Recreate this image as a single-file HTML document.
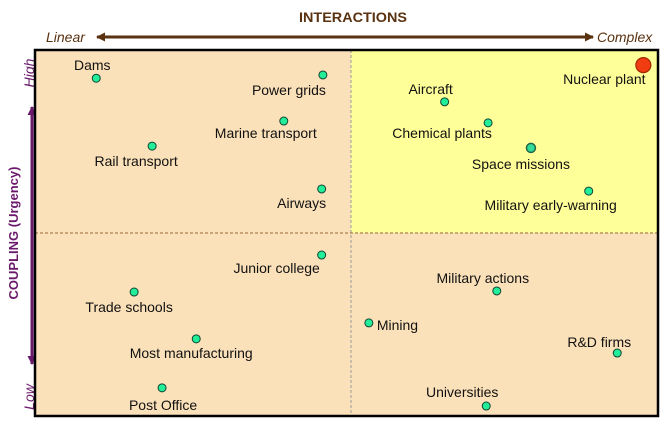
<!DOCTYPE html>
<html><head><meta charset="utf-8">
<style>
html,body{margin:0;padding:0;background:#fff;}
svg{display:block;font-family:"Liberation Sans",sans-serif;}
</style></head>
<body>
<svg id="chart" width="666" height="423" viewBox="0 0 666 423" xmlns="http://www.w3.org/2000/svg">
  <defs>
    <marker id="ab" markerWidth="9" markerHeight="9" refX="8" refY="4.5" orient="auto-start-reverse" markerUnits="userSpaceOnUse"><path d="M0,0 L9,4.5 L0,9 z" fill="#5a3210"/></marker>
    <marker id="ap" markerWidth="9" markerHeight="9" refX="8" refY="4.5" orient="auto-start-reverse" markerUnits="userSpaceOnUse"><path d="M0,0 L9,4.5 L0,9 z" fill="#6b1a6b"/></marker>
  </defs>
  <text x="353" y="22" text-anchor="middle" font-size="14" font-weight="bold" fill="#5a3210" textLength="108" lengthAdjust="spacingAndGlyphs">INTERACTIONS</text>
  <line x1="97" y1="37" x2="593" y2="37" stroke="#5a3210" stroke-width="3" marker-start="url(#ab)" marker-end="url(#ab)"/>
  <text x="46" y="42" font-size="14" font-style="italic" fill="#5a3210">Linear</text>
  <text x="597" y="42" font-size="14" font-style="italic" fill="#5a3210">Complex</text>
  <text transform="translate(18,233) rotate(-90)" text-anchor="middle" font-size="13" font-weight="bold" fill="#6b1a6b">COUPLING (Urgency)</text>
  <line x1="32" y1="107" x2="32" y2="364" stroke="#6b1a6b" stroke-width="3" marker-start="url(#ap)" marker-end="url(#ap)"/>
  <text transform="translate(34,73) rotate(-90)" text-anchor="middle" font-size="14" font-style="italic" fill="#6b1a6b">High</text>
  <text transform="translate(34,397) rotate(-90)" text-anchor="middle" font-size="14" font-style="italic" fill="#6b1a6b">Low</text>

  <rect x="35" y="50" width="623" height="366" fill="#fbe1b9"/>
  <rect x="351" y="50" width="307" height="183" fill="#ffff99"/>
  <line x1="351" y1="50" x2="351" y2="416" stroke="#999" stroke-dasharray="3,2"/>
  <line x1="35" y1="233" x2="658" y2="233" stroke="#996633" stroke-dasharray="3,2"/>
  <rect x="35" y="50" width="623" height="366" fill="none" stroke="#000" stroke-width="2.5"/>
  <g id="marks"></g>
</svg>
<script>
// interaction complexity (0-100) and coupling (0-100)
const systems = ["Dams","Power grids","Marine transport","Rail transport","Airways","Junior college","Trade schools","Most manufacturing","Post Office","Aircraft","Chemical plants","Space missions","Military early-warning","Nuclear plant","Military actions","Mining","R&D firms","Universities"];
const interactions = [9.7,46.2,39.9,18.7,46.0,46.0,15.8,25.8,20.3,65.8,72.8,79.7,89.0,97.8,74.2,53.6,93.6,72.5];
const coupling = [92.5,93.4,80.7,73.8,62.0,43.8,33.6,20.7,7.2,86.0,80.2,73.3,61.4,96.1,33.9,25.1,16.8,2.2];
const highlight = ["normal","normal","normal","normal","normal","normal","normal","normal","normal","normal","normal","ring","normal","red","normal","normal","normal","normal"];
// label offsets (layout only)
const lblDx = [-4,-34,-18,-16,-20,-45,-5,-5,1,-14,-46,-10,-38,-39,-14,8,-18,-24];
const lblDy = [-8,20,17,20,19,18,20,19,22,-8,15,21,19,19,-8,7,-6,-9];
const lblAnchor = ["middle","middle","middle","middle","middle","middle","middle","middle","middle","middle","middle","middle","middle","middle","middle","start","middle","middle"];

const X0=36, X1=657, Y0=414, Y1=51;
const xs = v => X0 + (X1-X0)*v/100;
const ys = v => Y0 - (Y0-Y1)*v/100;
const NS="http://www.w3.org/2000/svg";
const g=document.getElementById('marks');
systems.forEach((name,i)=>{
  const cx=xs(interactions[i]), cy=ys(coupling[i]);
  const c=document.createElementNS(NS,'circle');
  
  
  c.setAttribute('cx',cx); c.setAttribute('cy',cy);
  if(highlight[i]==="red"){c.setAttribute('r',7.5);c.setAttribute('fill','#f03c10');c.setAttribute('stroke','#a02800');c.setAttribute('stroke-width','1.2');}
  else if(highlight[i]==="ring"){c.setAttribute('r',4.5);c.setAttribute('fill','#33dd99');c.setAttribute('stroke','#226644');c.setAttribute('stroke-width','1.5');}
  else {c.setAttribute('r',4);c.setAttribute('fill','#22ee99');c.setAttribute('stroke','#114433');c.setAttribute('stroke-width','1');}
  g.appendChild(c);
  const t=document.createElementNS(NS,'text');
  
  
  t.setAttribute('x',cx+lblDx[i]); t.setAttribute('y',cy+lblDy[i]);
  t.setAttribute('text-anchor',lblAnchor[i]);
  t.setAttribute('font-size','14'); t.setAttribute('fill','#111');
  t.textContent=name;
  g.appendChild(t);
});
</script>
</body></html>
